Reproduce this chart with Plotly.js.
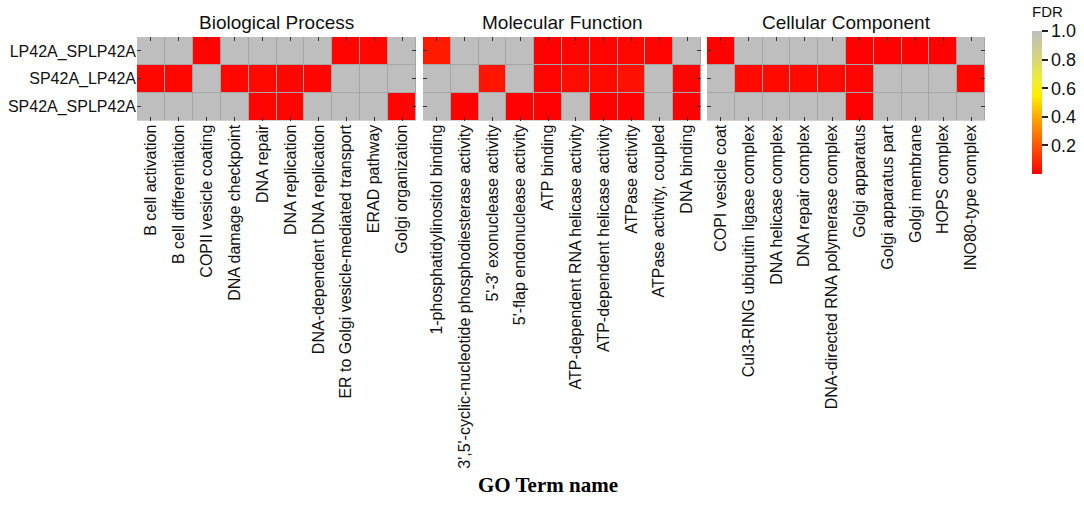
<!DOCTYPE html>
<html>
<head>
<meta charset="utf-8">
<script src="https://cdn.plot.ly/plotly-3.0.1.min.js"></script>
<style>html,body{margin:0;padding:0;background:#fff;}#chart{width:1084px;height:505px;}</style>
</head>
<body>
<div id="chart"></div>
<script>
// ---- data ----
const samples = ["LP42A_SPLP42A", "SP42A_LP42A", "SP42A_SPLP42A"];

const bpTerms = ["B cell activation", "B cell differentiation", "COPII vesicle coating",
  "DNA damage checkpoint", "DNA repair", "DNA replication", "DNA-dependent DNA replication",
  "ER to Golgi vesicle-mediated transport", "ERAD pathway", "Golgi organization"];
const mfTerms = ["1-phosphatidylinositol binding", "3',5'-cyclic-nucleotide phosphodiesterase activity",
  "5'-3' exonuclease activity", "5'-flap endonuclease activity", "ATP binding",
  "ATP-dependent RNA helicase activity", "ATP-dependent helicase activity", "ATPase activity",
  "ATPase activity, coupled", "DNA binding"];
const ccTerms = ["COPI vesicle coat", "Cul3-RING ubiquitin ligase complex", "DNA helicase complex",
  "DNA repair complex", "DNA-directed RNA polymerase complex", "Golgi apparatus",
  "Golgi apparatus part", "Golgi membrane", "HOPS complex", "INO80-type complex"];

// FDR per sample row (1 = not significant, drawn grey)
const bpFDR = [
  [1, 1, 0.01, 1, 1, 1, 1, 0.01, 0.015, 1],
  [0.015, 0.015, 1, 0.015, 0.02, 0.015, 0.015, 1, 1, 1],
  [1, 1, 1, 1, 0.01, 0.01, 1, 1, 1, 0.01]
];
const mfFDR = [
  [0.06, 1, 1, 1, 0.005, 0.01, 0.01, 0.015, 0.01, 1],
  [1, 1, 0.05, 1, 0.01, 0.03, 0.02, 0.04, 1, 0.01],
  [1, 0.005, 1, 0.005, 0.005, 1, 0.005, 0.005, 1, 0.005]
];
const ccFDR = [
  [0.005, 1, 1, 1, 1, 0.005, 0.005, 0.005, 0.005, 1],
  [1, 0.02, 0.02, 0.02, 0.02, 0.01, 1, 1, 1, 0.015],
  [1, 1, 1, 1, 1, 0.005, 1, 1, 1, 1]
];
const panelTitles = ["Biological Process", "Molecular Function", "Cellular Component"];
const cbTicks = [0.2, 0.4, 0.6, 0.8, 1.0];

// ---- layout helpers ----
const W = 1084, H = 505;
const px = v => v / W;
const py = v => (H - v) / H;
const xDomains = [[px(137), px(416)], [px(423), px(701)], [px(707), px(985)]];
const yDomain = [py(120.5), py(37)];

const colorscale = [
  [0, '#ff0000'], [0.2, '#ff5500'], [0.4, '#ffaa00'], [0.55, '#ffee00'],
  [0.65, '#f2ee30'], [0.8, '#d8d678'], [1, '#bebebe']
];

const sans = 'Liberation Sans, Arial, sans-serif';
const tickFont = {family: sans, size: 16, color: '#111'};

const panels = [[bpTerms, bpFDR], [mfTerms, mfFDR], [ccTerms, ccFDR]];
const traces = panels.map((p, i) => {
  const t = {
    type: 'heatmap',
    x: p[0], y: samples, z: p[1],
    zmin: 0, zmax: 1,
    colorscale: colorscale,
    xgap: 1, ygap: 1,
    xaxis: i === 0 ? 'x' : 'x' + (i + 1),
    yaxis: i === 0 ? 'y' : 'y' + (i + 1),
    showscale: i === 0,
    hovertemplate: '%{y}<br>%{x}<br>FDR=%{z}<extra></extra>'
  };
  if (i === 0) {
    t.colorbar = {
      x: px(1032), xanchor: 'left', xref: 'paper',
      y: py(31), yanchor: 'top', yref: 'paper',
      len: 143 / H, lenmode: 'fraction',
      thickness: 10, thicknessmode: 'pixels',
      xpad: 0, ypad: 0, outlinewidth: 0,
      ticks: 'outside', ticklen: 6, tickwidth: 2, tickcolor: '#222',
      tickvals: cbTicks, ticktext: cbTicks.map(v => v.toFixed(1)),
      tickfont: {family: sans, size: 18, color: '#111'}
    };
  }
  return t;
});

const layout = {
  width: W, height: H,
  margin: {l: 0, r: 0, t: 0, b: 0},
  paper_bgcolor: '#ffffff',
  plot_bgcolor: '#a6a6a6',
  showlegend: false,
  annotations: [],
  font: {family: sans, color: '#111'}
};

for (let i = 0; i < 3; i++) {
  const xa = i === 0 ? 'xaxis' : 'xaxis' + (i + 1);
  const ya = i === 0 ? 'yaxis' : 'yaxis' + (i + 1);
  const xid = i === 0 ? 'x' : 'x' + (i + 1);
  const yid = i === 0 ? 'y' : 'y' + (i + 1);
  layout[xa] = {
    domain: xDomains[i], anchor: yid,
    type: 'category',
    categoryorder: 'array', categoryarray: panels[i][0],
    tickangle: -90,
    ticks: 'inside', ticklen: 4, tickwidth: 1, tickcolor: '#333',
    mirror: 'ticks', showline: false, showgrid: false, zeroline: false,
    tickfont: tickFont, automargin: false, fixedrange: true
  };
  layout[ya] = {
    domain: yDomain, anchor: xid,
    type: 'category',
    autorange: 'reversed',
    ticks: 'inside', ticklen: 4, tickwidth: 1, tickcolor: '#333',
    mirror: 'ticks', showline: false, showgrid: false, zeroline: false,
    showticklabels: i === 0,
    tickfont: tickFont, automargin: false, fixedrange: true
  };
  layout.annotations.push({
    text: panelTitles[i], xref: 'paper', yref: 'paper',
    x: (xDomains[i][0] + xDomains[i][1]) / 2, y: py(22.5),
    xanchor: 'center', yanchor: 'middle', showarrow: false,
    font: {family: sans, size: 19, color: '#111'}
  });
}
// colourbar title
layout.annotations.push({
  text: 'FDR', xref: 'paper', yref: 'paper',
  x: px(1030), y: py(11), xanchor: 'left', yanchor: 'middle', showarrow: false,
  font: {family: sans, size: 15, color: '#111'}
});
layout.annotations.push({
  text: '<b>GO Term name</b>', xref: 'paper', yref: 'paper',
  x: px(548), y: py(485), xanchor: 'center', yanchor: 'middle', showarrow: false,
  font: {family: 'Liberation Serif, Times New Roman, serif', size: 21, color: '#000'}
});

Plotly.newPlot('chart', traces, layout, {displayModeBar: false, staticPlot: true});
</script>
</body>
</html>
